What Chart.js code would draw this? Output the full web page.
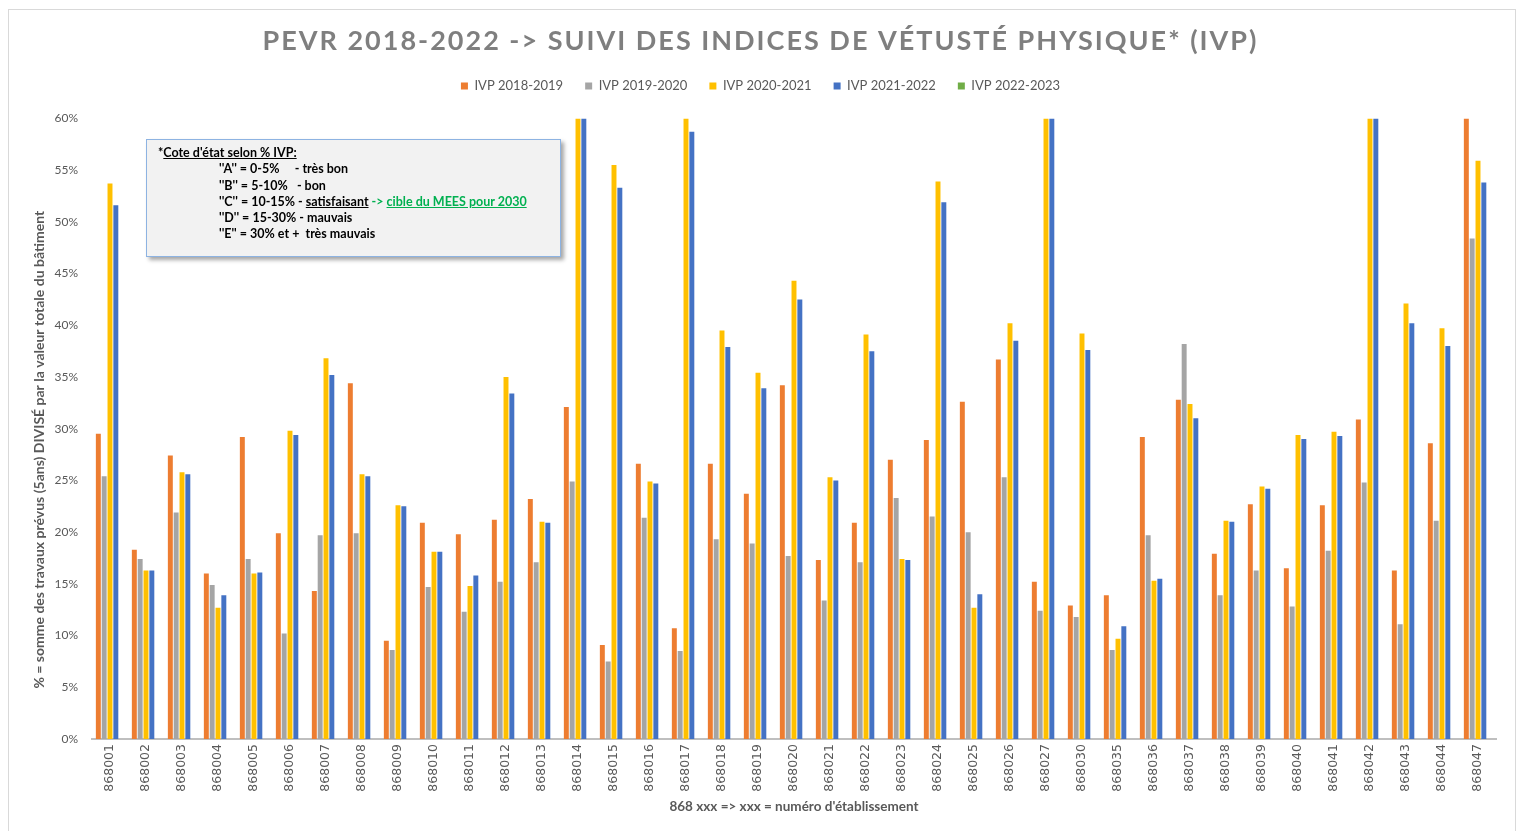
<!DOCTYPE html>
<html>
<head>
<meta charset="utf-8">
<script src="https://cdn.jsdelivr.net/npm/chart.js@4.4.0/dist/chart.umd.min.js"></script>
<style>
  body { margin: 0; background: #fff; }
  #wrap { position: relative; width: 1519px; height: 831px; }
  #frame { position: absolute; left: 8px; top: 9px; width: 1508px; height: 830px; border: 1px solid #d9d9d9; box-sizing: border-box; }
  #ivp { position: absolute; left: 0; top: 0; }
  #note {
    position: absolute; left: 146px; top: 139px; width: 415px; height: 118px;
    box-sizing: border-box; background: #f2f2f2; border: 1px solid #8db3e2;
    box-shadow: 3px 3px 4px rgba(0,0,0,0.35);
    font-family: Lato, "Open Sans", sans-serif; font-weight: bold; font-size: 12.5px; color: #000;
    padding: 5px 0 0 11px; line-height: 16.3px;
  }
  #note .l { padding-left: 61px; white-space: pre; }
  #note u { text-decoration: underline; }
  #note .g { color: #00b050; }
</style>
</head>
<body>
<div id="wrap">
  <div id="frame"></div>
  <canvas id="ivp" width="1519" height="831"></canvas>
  <div id="note">
    <div>*<u>Cote d'état selon % IVP:</u></div>
    <div class="l">''A'' = 0-5%     - très bon</div>
    <div class="l">''B'' = 5-10%   - bon</div>
    <div class="l">''C'' = 10-15% - <u>satisfaisant</u> <span class="g">-&gt; <u>cible du MEES pour 2030</u></span></div>
    <div class="l">''D'' = 15-30% - mauvais</div>
    <div class="l">''E'' = 30% et +  très mauvais</div>
  </div>
</div>
<script>
// etablissements (868 xxx)
var labels = ["868001","868002","868003","868004","868005","868006","868007","868008","868009","868010",
  "868011","868012","868013","868014","868015","868016","868017","868018","868019","868020",
  "868021","868022","868023","868024","868025","868026","868027","868030","868035","868036",
  "868037","868038","868039","868040","868041","868042","868043","868044","868047"];

// IVP en % (les barres coupées à 60% sont mises à 60)
var ivp1819 = [29.5,18.3,27.4,16.0,29.2,19.9,14.3,34.4,9.5,20.9,
  19.8,21.2,23.2,32.1,9.1,26.6,10.7,26.6,23.7,34.2,
  17.3,20.9,27.0,28.9,32.6,36.7,15.2,12.9,13.9,29.2,
  32.8,17.9,22.7,16.5,22.6,30.9,16.3,28.6,60];
var ivp1920 = [25.4,17.4,21.9,14.9,17.4,10.2,19.7,19.9,8.6,14.7,
  12.3,15.2,17.1,24.9,7.5,21.4,8.5,19.3,18.9,17.7,
  13.4,17.1,23.3,21.5,20.0,25.3,12.4,11.8,8.6,19.7,
  38.2,13.9,16.3,12.8,18.2,24.8,11.1,21.1,48.4];
var ivp2021 = [53.7,16.3,25.8,12.7,16.0,29.8,36.8,25.6,22.6,18.1,
  14.8,35.0,21.0,60,55.5,24.9,60,39.5,35.4,44.3,
  25.3,39.1,17.4,53.9,12.7,40.2,60,39.2,9.7,15.3,
  32.4,21.1,24.4,29.4,29.7,60,42.1,39.7,55.9];
var ivp2122 = [51.6,16.3,25.6,13.9,16.1,29.4,35.2,25.4,22.5,18.1,
  15.8,33.4,20.9,60,53.3,24.7,58.7,37.9,33.9,42.5,
  25.0,37.5,17.3,51.9,14.0,38.5,60,37.6,10.9,15.5,
  31.0,21.0,24.2,29.0,29.3,60,40.2,38.0,53.8];
var ivp2223 = labels.map(function(){ return null; }); // pas encore de données

var yTicks = [0,5,10,15,20,25,30,35,40,45,50,55,60];

var font = "Lato, 'Open Sans', sans-serif";
var grey = "#595959";

function ds(label, data, color) {
  return { label: label, data: data, backgroundColor: color, borderWidth: 0,
           categoryPercentage: 0.81, barPercentage: 0.85 };
}

// titre espacé + un peu plus d'espace sous la légende
var tweaks = {
  id: "tweaks",
  beforeInit: function(chart) {
    var fit = chart.legend.fit;
    chart.legend.fit = function() {
      fit.bind(chart.legend)();
      this.height += 16;
    };
    var t = chart.titleBlock;
    var draw = t.draw;
    t.draw = function() {
      this.ctx.save();
      this.ctx.letterSpacing = "2px";
      draw.call(this);
      this.ctx.restore();
    };
  }
};

new Chart(document.getElementById("ivp").getContext("2d"), {
  type: "bar",
  data: {
    labels: labels,
    datasets: [
      ds("IVP 2018-2019", ivp1819, "#ed7d31"),
      ds("IVP 2019-2020", ivp1920, "#a5a5a5"),
      ds("IVP 2020-2021", ivp2021, "#ffc000"),
      ds("IVP 2021-2022", ivp2122, "#4472c4"),
      ds("IVP 2022-2023", ivp2223, "#70ad47")
    ]
  },
  options: {
    responsive: false,
    animation: false,
    layout: { padding: { left: 25, right: 23, top: 0, bottom: 12 } },
    plugins: {
      title: {
        display: true,
        text: "PEVR 2018-2022 -> SUIVI DES INDICES DE VÉTUSTÉ PHYSIQUE* (IVP)",
        color: "#7f7f7f",
        font: { family: font, size: 27, weight: "bold" },
        padding: { top: 25, bottom: 0 }
      },
      legend: {
        labels: { boxWidth: 7, boxHeight: 7, color: grey, font: { family: font, size: 13 }, padding: 22 }
      },
      tooltip: { enabled: false }
    },
    scales: {
      x: {
        afterFit: function(scale) { scale.height = 80; },
        grid: { display: false, drawTicks: false },
        border: { color: "#bfbfbf", width: 2 },
        ticks: { color: grey, font: { family: "'DejaVu Sans', sans-serif", size: 12.5 }, minRotation: 90, maxRotation: 90, padding: 5, autoSkip: false },
        title: { display: true, text: "868 xxx => xxx = numéro d'établissement", color: grey,
                 font: { family: font, size: 13.5, weight: "bold" }, padding: { top: 0, bottom: 4 } }
      },
      y: {
        min: 0, max: 60,
        afterFit: function(scale) { scale.width = 67; },
        afterBuildTicks: function(scale) { scale.ticks = yTicks.map(function(v) { return { value: v }; }); },
        grid: { display: false, drawTicks: false },
        border: { display: false },
        ticks: { color: grey, font: { family: font, size: 12 }, padding: 14,
                 callback: function(v) { return v + "%"; } },
        title: { display: true,
                 text: "% = somme des travaux prévus (5ans) DIVISÉ par la valeur totale du bâtiment\u2003\u2003\u2003\u2003",
                 color: grey, font: { family: font, size: 14, weight: "bold" }, padding: 6 }
      }
    }
  },
  plugins: [tweaks]
});
</script>
</body>
</html>
